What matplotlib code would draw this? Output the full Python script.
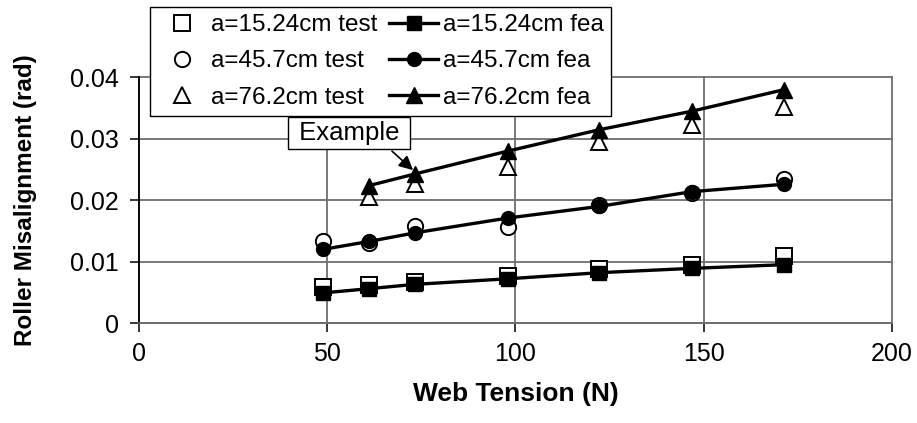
#!/usr/bin/env python3
"""Roller misalignment vs web tension: test points against FEA curves."""

import matplotlib
matplotlib.use("Agg")
import matplotlib.pyplot as plt
from matplotlib.ticker import FuncFormatter

# ---------------------------------------------------------------------------
# Data
# ---------------------------------------------------------------------------

tension_N = [48.9, 61.2, 73.4, 97.9, 122.3, 146.8, 171.2]
tension_N_76 = [61.2, 73.4, 97.9, 122.3, 146.8, 171.2]

test_15 = [0.0059, 0.0062, 0.0066, 0.0077, 0.0088, 0.0095, 0.0109]
fea_15 = [0.0049, 0.0056, 0.0063, 0.0072, 0.0082, 0.0089, 0.0095]

test_45 = [0.0133, 0.0130, 0.0158, 0.0156, 0.0193, 0.0211, 0.0234]
fea_45 = [0.0120, 0.0133, 0.0147, 0.0171, 0.0190, 0.0214, 0.0226]

test_76 = [0.0206, 0.0226, 0.0254, 0.0295, 0.0322, 0.0352]
fea_76 = [0.0224, 0.0243, 0.0280, 0.0315, 0.0345, 0.0380]

labels_test = ["a=15.24cm test", "a=45.7cm test", "a=76.2cm test"]
labels_fea = ["a=15.24cm fea", "a=45.7cm fea", "a=76.2cm fea"]

x_ticks = [0, 50, 100, 150, 200]
y_ticks = [0, 0.01, 0.02, 0.03, 0.04]

# ---------------------------------------------------------------------------
# Style
# ---------------------------------------------------------------------------

plt.rcParams.update({
    "font.family": ["Liberation Sans", "DejaVu Sans"],
    "font.size": 17,
})

GRID = "#6e6e6e"

fig = plt.figure(figsize=(9.17, 4.23), dpi=100)
ax = fig.add_axes([0.1516, 0.2364, 0.8211, 0.5804])

ax.set_xlim(0, 200)
ax.set_ylim(0, 0.04)
ax.set_xticks(x_ticks)
ax.set_yticks(y_ticks)
ax.yaxis.set_major_formatter(
    FuncFormatter(lambda v, _: "0" if v == 0 else f"{v:.2f}"))

ax.grid(True, color=GRID, linewidth=1.3, zorder=0)
for gl in ax.get_xgridlines() + ax.get_ygridlines():
    gl.set_clip_on(False)
ax.set_axisbelow(True)

for side in ("top", "right"):
    ax.spines[side].set_visible(False)
ax.spines["left"].set_color("black")
ax.spines["left"].set_linewidth(1.3)
ax.spines["bottom"].set_color(GRID)
ax.spines["bottom"].set_linewidth(1.3)

ax.tick_params(axis="both", direction="out", length=6.5, width=1.1,
               labelsize=18, colors="black")
ax.tick_params(axis="y", pad=8)
ax.tick_params(axis="x", pad=7)

ax.set_xlabel("Web Tension (N)", fontsize=19, fontweight="bold", labelpad=12)
ax.set_ylabel("Roller Misalignment (rad)", fontsize=17.5, fontweight="bold",
              labelpad=24)

# ---------------------------------------------------------------------------
# Series: open test markers first, FEA lines + filled markers on top
# ---------------------------------------------------------------------------

ms = 11
open_kw = dict(linestyle="none", markerfacecolor="white",
               markeredgecolor="black", markeredgewidth=1.4,
               markersize=ms, zorder=3)
fea_kw = dict(color="black", linewidth=2.4, markersize=ms - 1,
              markeredgecolor="black", markerfacecolor="black", zorder=4)

h_t15, = ax.plot(tension_N, test_15, marker="s", label=labels_test[0], **open_kw)
h_t45, = ax.plot(tension_N, test_45, marker="o", label=labels_test[1], **open_kw)
h_t76, = ax.plot(tension_N_76, test_76, marker="^", label=labels_test[2], **open_kw)

h_f15, = ax.plot(tension_N, fea_15, marker="s", label=labels_fea[0], **fea_kw)
h_f45, = ax.plot(tension_N, fea_45, marker="o", label=labels_fea[1], **fea_kw)
h_f76, = ax.plot(tension_N_76, fea_76, marker="^", label=labels_fea[2],
                 **dict(fea_kw, markersize=ms + 1))

# Callout
ax.annotate("", xy=(72.8, 0.0249), xytext=(67.2, 0.0280),
            arrowprops=dict(arrowstyle="-|>,head_length=0.5,head_width=0.25",
                            color="black", lw=1.2, shrinkA=0, shrinkB=0),
            zorder=5)
ax.text(55.8, 0.0309, " Example ", fontsize=18.5, ha="center", va="center",
        zorder=6,
        bbox=dict(boxstyle="square,pad=0.15", facecolor="white",
                  edgecolor="black", linewidth=1.0))

leg = fig.legend(
    handles=[h_t15, h_t45, h_t76, h_f15, h_f45, h_f76],
    ncol=2, loc="upper left", bbox_to_anchor=(150 / 917, 1 - 7 / 423),
    frameon=True, fancybox=False, edgecolor="black", framealpha=1,
    fontsize=17.5, handlelength=2.0, handletextpad=0.2, columnspacing=0.5,
    labelspacing=0.58, borderpad=0.3, borderaxespad=0,
)
leg.get_frame().set_linewidth(1.0)

fig.savefig("out.png", dpi=100)
